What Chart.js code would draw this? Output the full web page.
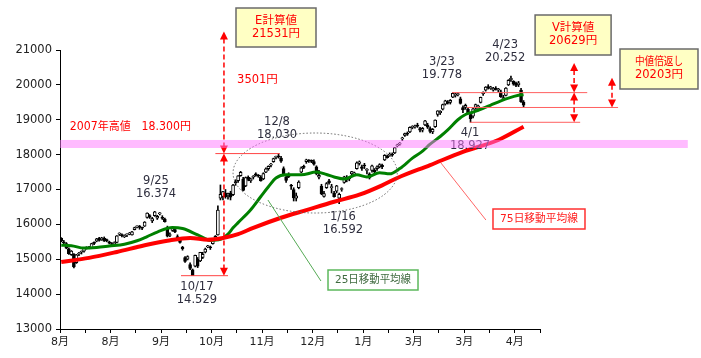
<!DOCTYPE html>
<html>
<head>
<meta charset="utf-8">
<script src="https://cdn.jsdelivr.net/npm/chart.js@4.4.1/dist/chart.umd.min.js"></script>
<style>
  html, body { margin: 0; padding: 0; background: #fff; }
</style>
</head>
<body>
<canvas id="chart" width="701" height="358"></canvas>
<script>
// x軸ラベル (10営業日ごとの目盛り、1つおきに表示)
const xLabels = ['8月', '', '8月', '', '9月', '', '10月', '', '11月', '', '12月', '', '1月', '', '3月', '', '3月', '', '4月', ''];

// 日足 (2014/8/1 〜 2015/5/1) 始値・高値・安値・終値
const opens = [
  15600,15480,15450,15300,15130,15150,14900,15150,15200,15230,15330,15350,15330,15480,15520,15600,15560,15600,15550,15500,15430,
  15450,15480,15720,15700,15650,15700,15720,15700,15850,15930,15950,15900,15950,16200,16250,16100,16250,16180,16300,16200,
  16150,15900,15680,15830,15850,15650,15600,15350,15050,15000,14850,14700,14800,15000,14950,15050,15200,15350,15330,15450,15600,15700,
  16750,16800,16900,16850,16900,16850,17200,17250,17400,17300,17100,17350,17250,17350,17450,17400,17350,17300,
  17500,17600,17700,17800,17920,17950,17900,17600,17350,17400,17100,17000,16750,17050,17500,17650,17800,17830,17830,17800,17650,
  17350,17100,16800,17050,17250,17050,16900,16950,16750,17000,17200,17350,17300,17450,17450,17600,17750,17650,17700,
  17550,17450,17550,17550,17600,17650,17700,17850,17950,17980,18000,18050,18250,18300,18450,18550,18600,18650,18780,
  18800,18850,18750,18700,18850,18850,18750,18650,18800,19150,19200,19300,19450,19500,19500,19650,19700,19720,19600,19350,19350,19300,
  19150,19100,19350,19300,19500,19750,19850,19950,19900,19850,19900,19850,19800,19600,19700,20000,20150,20100,20050,20000,19850,
  19500
];
const highs = [
  15620,15540,15480,15330,15250,15160,15140,15200,15240,15330,15360,15370,15460,15500,15600,15630,15630,15640,15580,15520,15480,
  15500,15680,15760,15730,15700,15730,15770,15800,15920,15960,15970,15920,16080,16330,16280,16200,16374,16260,16340,16250,
  16180,15950,15760,15900,15880,15700,15620,15370,15080,15100,14900,14720,15120,15050,15200,15200,15320,15400,15380,15560,15680,16530,
  17130,16950,17000,16900,16950,17150,17280,17400,17520,17350,17360,17390,17330,17400,17480,17430,17400,17480,
  17620,17680,17750,17900,17960,18030,17950,17650,17400,17480,17150,17050,16900,17250,17650,17700,17870,17860,17850,17850,17680,
  17550,17150,16950,17200,17290,17150,16950,17120,16900,17050,17380,17400,17350,17520,17500,17790,17820,17700,17750,
  17600,17480,17700,17600,17680,17740,17730,18000,17990,18050,18050,18210,18300,18350,18500,18620,18650,18800,18830,
  18850,18900,18780,18780,18980,18900,18800,18750,19000,19260,19260,19450,19560,19550,19580,19778,19760,19770,19650,19400,19450,19350,
  19200,19330,19450,19420,19650,19800,19950,20006,19960,19930,19950,19900,19850,19700,19920,20150,20252,20120,20080,20100,19900,
  19550
];
const lows = [
  15500,15430,15300,15140,15110,14750,14880,15100,15150,15200,15290,15300,15320,15420,15500,15520,15540,15510,15500,15440,15380,
  15420,15470,15680,15640,15620,15650,15700,15690,15840,15900,15860,15850,15940,16180,16170,16050,16230,16140,16270,16140,
  16060,15640,15650,15800,15760,15580,15460,15260,14910,14980,14700,14529,14780,14760,14930,15020,15180,15330,15280,15430,15560,15690,
  16700,16700,16750,16720,16700,16820,17120,17200,17380,16960,17080,17250,17200,17300,17380,17350,17240,17280,
  17480,17550,17650,17780,17880,17900,17780,17400,17200,17340,17000,16670,16670,17020,17480,17600,17750,17780,17770,17700,17420,
  17300,16850,16780,17030,17150,16900,16780,16900,16592,16950,17180,17220,17250,17420,17400,17580,17700,17550,17600,
  17450,17300,17500,17450,17550,17620,17600,17830,17900,17950,17950,18030,18220,18270,18400,18520,18550,18630,18740,
  18760,18780,18650,18650,18830,18750,18620,18600,18780,19100,19150,19280,19420,19450,19450,19630,19650,19680,19450,19200,19300,19180,
  18927,19050,19300,19250,19480,19700,19820,19880,19870,19820,19850,19800,19640,19570,19680,19980,20100,19990,19950,19950,19500,
  19350
];
const closes = [
  15523,15474,15320,15159,15232,14778,15130,15161,15213,15314,15318,15322,15449,15454,15586,15539,15613,15521,15534,15459,15424,
  15476,15668,15728,15676,15668,15705,15749,15788,15909,15948,15911,15888,16067,16321,16205,16167,16360,16229,16310,16173,
  16081,15661,15708,15890,15783,15595,15479,15300,14936,15073,14738,14532,15111,14804,15195,15138,15291,15388,15329,15553,15658,16413,
  16862,16937,16792,16880,16780,17124,17197,17392,17490,16973,17344,17288,17300,17357,17407,17383,17248,17459,
  17590,17663,17720,17887,17920,17935,17813,17412,17257,17371,17099,16755,16819,17210,17621,17635,17854,17818,17808,17729,17450,
  17408,16883,16885,17167,17197,17087,16795,17108,16864,17014,17366,17280,17329,17511,17468,17768,17795,17606,17674,
  17558,17335,17678,17504,17648,17711,17652,17979,17913,18004,17987,18199,18264,18332,18466,18603,18585,18785,18797,
  18826,18815,18703,18751,18971,18790,18665,18723,18991,19254,19246,19437,19544,19476,19560,19754,19713,19746,19471,19285,19411,19206,
  19034,19312,19435,19397,19640,19789,19937,19907,19905,19908,19869,19885,19652,19634,19909,20133,20187,20020,19983,20058,19520,
  19420
];

// 移動平均線 (グラフから読み取り: 営業日番号と値)
const ma25Days   = [0, 4, 9, 14, 19, 25, 30, 34, 38, 44, 48, 54, 59, 63, 66, 68, 70, 75, 79, 82, 85, 89, 95, 101, 105, 108, 112, 117, 121, 126, 130, 134, 139, 143, 146, 150, 153, 157, 160, 163, 167, 170, 174, 177, 181, 183];
const ma25Values = [15400, 15390, 15320, 15340, 15380, 15430, 15530, 15650, 15780, 15910, 15880, 15700, 15540, 15570, 15720, 15900, 16050, 16420, 16800, 17080, 17330, 17420, 17420, 17500, 17430, 17360, 17300, 17420, 17360, 17480, 17450, 17600, 17900, 18100, 18300, 18520, 18710, 19000, 19150, 19220, 19330, 19420, 19540, 19620, 19700, 19720];
const ma75Days   = [0, 11, 22, 33, 42, 51, 58, 64, 70, 76, 87, 97, 108, 118, 127, 133, 146, 159, 173, 183];
const ma75Values = [14920, 15040, 15210, 15400, 15530, 15610, 15560, 15610, 15720, 15900, 16190, 16410, 16650, 16850, 17120, 17330, 17700, 18080, 18420, 18800];

// 注目日の日付と価格
const peakDates  = ['9/25', '10/17', '12/8', '1/16', '3/23', '4/1', '4/23'];
const peakPrices = ['16.374', '14.529', '18.030', '16.592', '19.778', '18.927', '20.252'];

// 計算値
const high2007 = 18300;
const eHigh = 18030, eLow = 14529, eTarget = 21531;
const vHigh = 19778, vLow = 18927, vTarget = 20629;
const midValue = 19352, midTarget = 20203;

const FONT = '"DejaVu Sans", "Noto Sans CJK JP", sans-serif';
Chart.defaults.font.family = FONT;

function arrowHead(ctx, x, y, dir) {
  // dir: -1 上向き, 1 下向き
  ctx.beginPath();
  ctx.moveTo(x, y);
  ctx.lineTo(x - 4, y - dir * 8);
  ctx.lineTo(x + 4, y - dir * 8);
  ctx.closePath();
  ctx.fill();
}

function dashedArrow(ctx, x, yTop, yBottom) {
  ctx.setLineDash([5, 3]);
  ctx.beginPath();
  ctx.moveTo(x, yTop + 7);
  ctx.lineTo(x, yBottom - 7);
  ctx.stroke();
  ctx.setLineDash([]);
  arrowHead(ctx, x, yTop, -1);
  arrowHead(ctx, x, yBottom, 1);
}

function box(ctx, cx, cy, w, h, fill, stroke, lw) {
  ctx.fillStyle = fill;
  ctx.fillRect(cx - w / 2, cy - h / 2, w, h);
  ctx.strokeStyle = stroke;
  ctx.lineWidth = lw;
  ctx.strokeRect(cx - w / 2, cy - h / 2, w, h);
}

const annotate = {
  id: 'annotate',
  afterDatasetsDraw(chart) {
    const ctx = chart.ctx;
    const X = v => chart.scales.x.getPixelForValue(v);
    const Y = v => chart.scales.y.getPixelForValue(v);
    ctx.save();

    // 点線の楕円
    const ecx = X(100.5), ecy = Y(17473);
    ctx.strokeStyle = '#666';
    ctx.lineWidth = 1;
    ctx.setLineDash([1.5, 2]);
    ctx.beginPath();
    ctx.ellipse(ecx, ecy, X(133) - ecx, Y(16326) - ecy, 0, 0, Math.PI * 2);
    ctx.stroke();
    ctx.setLineDash([]);

    // 引き出し線
    ctx.lineWidth = 1;
    ctx.strokeStyle = '#55aa55';
    ctx.beginPath(); ctx.moveTo(X(81.8), Y(16699)); ctx.lineTo(X(102.8), Y(14376)); ctx.stroke();
    ctx.strokeStyle = '#ff6666';
    ctx.beginPath(); ctx.moveTo(X(150.3), Y(17760)); ctx.lineTo(X(168.1), Y(16125)); ctx.stroke();

    // 水平の赤線
    ctx.strokeStyle = '#ff4444';
    const hline = (v, a, b) => { ctx.beginPath(); ctx.moveTo(X(a), Y(v)); ctx.lineTo(X(b), Y(v)); ctx.stroke(); };
    hline(eHigh, 61, 86.5);
    hline(eLow, 47.4, 66);
    ctx.strokeStyle = '#ff6060';
    hline(vHigh, 154.7, 208.2);
    hline(midValue, 160.6, 220.4);
    hline(vLow, 161.8, 205.4);

    // 矢印
    ctx.strokeStyle = '#ff0000';
    ctx.fillStyle = '#ff0000';
    ctx.lineWidth = 1.5;
    dashedArrow(ctx, X(64.4), Y(eTarget), Y(eHigh));
    dashedArrow(ctx, X(64.4), Y(eHigh), Y(eLow));
    dashedArrow(ctx, X(203), Y(vTarget), Y(vHigh));
    dashedArrow(ctx, X(203), Y(vHigh), Y(vLow));
    dashedArrow(ctx, X(218), Y(midTarget), Y(midValue));

    // 日付・価格ラベル
    const peakPos = [[37.5, 17244], [53.7, 14204], [85.4, 18935], [111.5, 16211], [150.7, 20656], [161.8, 18620], [175.7, 21143]];
    ctx.textAlign = 'center';
    ctx.textBaseline = 'middle';
    ctx.font = '11.5px ' + FONT;
    ctx.fillStyle = '#2e2e3e';
    peakDates.forEach((d, i) => {
      const px = X(peakPos[i][0]), py = Y(peakPos[i][1]);
      ctx.fillText(d, px, py);
      ctx.fillText(peakPrices[i], px, py + 13);
    });

    ctx.fillStyle = '#ff0000';
    ctx.textAlign = 'left';
    ctx.fillText('2007年高値　18.300円', X(3.4), Y(18792), 121);
    ctx.fillText('3501円', X(69.6), Y(20140));

    // 2007年高値の帯
    ctx.fillStyle = 'rgba(255,120,255,0.5)';
    ctx.fillRect(X(-0.5), Y(high2007 + 120), X(248) - X(-0.5), Y(high2007 - 110) - Y(high2007 + 120));

    // 計算値ボックス
    ctx.textAlign = 'center';
    const calcBox = (i, v, w, h, l1, l2, w1) => {
      const cx = X(i), cy = Y(v);
      box(ctx, cx, cy, w, h, '#ffffc4', '#6a6a6a', 1.5);
      ctx.fillStyle = '#ff0000';
      ctx.font = '11.5px ' + FONT;
      ctx.fillText(l1, cx, cy - 6.5, w1);
      ctx.fillText(l2, cx, cy + 6.5);
    };
    calcBox(85.0, 21645, 80, 39, 'E計算値', eTarget + '円', 44);
    calcBox(202.6, 21430, 76, 40, 'V計算値', vTarget + '円', 44);
    calcBox(236.6, 20455, 78, 40, '中値倍返し', midTarget + '円', 48);

    // 移動平均線の説明
    box(ctx, X(123.4), Y(14405), 90, 20, '#ffffff', '#5cb85c', 1.5);
    ctx.fillStyle = '#3f6a3f';
    ctx.font = '11px ' + FONT;
    ctx.fillText('25日移動平均線', X(123.4), Y(14405), 76);
    box(ctx, X(189.1), Y(16154), 92, 20, '#ffffff', '#ff3030', 1.5);
    ctx.fillStyle = '#ff2020';
    ctx.fillText('75日移動平均線', X(189.1), Y(16154), 78);

    ctx.restore();
  }
};

const wickData = highs.map((h, i) => ({ x: i, y: [lows[i], h] }));
const bodyData = opens.map((o, i) => ({ x: i, y: [o, closes[i]] }));
const bodyColors = opens.map((o, i) => closes[i] >= o ? '#ffffff' : '#000000');

new Chart(document.getElementById('chart').getContext('2d'), {
  type: 'bar',
  data: {
    datasets: [
      {
        type: 'line', order: 0,
        data: ma75Days.map((d, i) => ({ x: d, y: ma75Values[i] })),
        borderColor: '#ff0000', borderWidth: 4, pointRadius: 0, cubicInterpolationMode: 'monotone'
      },
      {
        type: 'line', order: 0,
        data: ma25Days.map((d, i) => ({ x: d, y: ma25Values[i] })),
        borderColor: '#008000', borderWidth: 3, pointRadius: 0, cubicInterpolationMode: 'monotone'
      },
      {
        order: 1, data: bodyData, grouped: false,
        backgroundColor: bodyColors, borderColor: '#000', borderWidth: 1,
        borderSkipped: false, barThickness: 3, minBarLength: 1
      },
      {
        order: 2, data: wickData, grouped: false,
        backgroundColor: '#000', barThickness: 1
      }
    ]
  },
  options: {
    responsive: false,
    animation: false,
    layout: { padding: { left: 0, top: 50, right: 161, bottom: 0 } },
    plugins: { legend: { display: false }, tooltip: { enabled: false } },
    scales: {
      x: {
        type: 'linear', min: -0.5, max: 189.5, offset: false,
        afterBuildTicks: axis => { axis.ticks = xLabels.map((_, k) => ({ value: -0.5 + 10 * k })); },
        afterFit: s => { s.height = 29; },
        grid: { drawOnChartArea: false, offset: false, tickLength: 4, tickColor: '#000' },
        border: { display: true, color: '#000' },
        ticks: {
          autoSkip: false, maxRotation: 0, padding: 3, color: '#222',
          font: { size: 11 },
          callback: (v, i) => xLabels[i]
        }
      },
      y: {
        min: 13000, max: 21000,
        afterFit: s => { s.width = 60; },
        grid: { drawOnChartArea: false, tickLength: 4, tickColor: '#000' },
        border: { display: true, color: '#000' },
        ticks: { stepSize: 1000, padding: 4, color: '#222', font: { size: 11.5 }, callback: v => String(v) }
      }
    }
  },
  plugins: [annotate]
});
</script>
</body>
</html>
